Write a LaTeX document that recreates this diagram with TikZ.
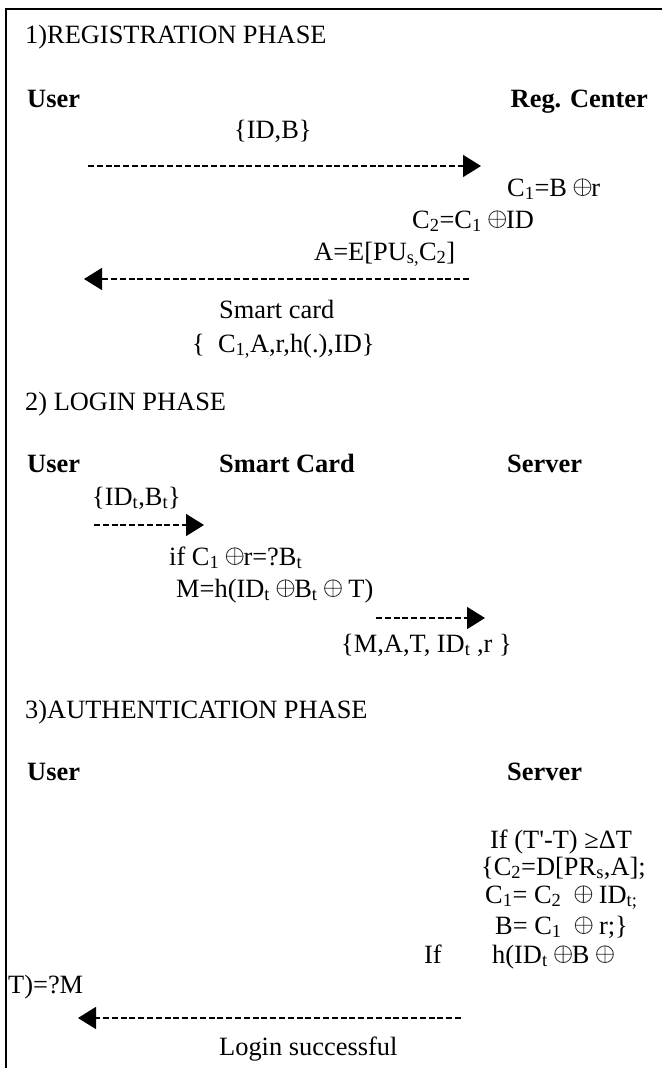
\documentclass[tikz,border=0pt]{standalone}
\usepackage{fontspec}
\setmainfont{Liberation Serif}
\usetikzlibrary{arrows.meta}
% thin circled-plus (exclusive or), about cap height, sitting on the baseline
\newcommand{\xor}{\tikz[baseline=0pt,x=1pt,y=1pt]{\draw[line width=0.85pt,black!80]
  (8.8,8.8) circle (8.4) (0.4,8.8) -- (17.2,8.8) (8.8,0.4) -- (8.8,17.2);}}
\newcommand{\lo}[1]{\textsubscript{#1}}

\begin{document}
\begin{tikzpicture}[x=1pt,y=-1pt,
  txt/.style={inner sep=0pt, anchor=base west, font=\fontsize{26.4}{30}\selectfont},
  role/.style={txt, font=\fontsize{26.4}{30}\selectfont\bfseries},
  frame/.style={line width=2pt},
  msg/.style={line width=1.6pt, dash pattern=on 6pt off 2.8pt,
              -{Triangle[length=18pt,width=22pt]}},
]
\useasboundingbox (0,0) rectangle (662,1068);
\draw[frame] (6,1068) -- (6,8.5) -- (662,8.5);

% ---- 1) Registration phase
\node[txt] (t1) at (25,43) {1)REGISTRATION PHASE};
\node[role] (u1) at (27,107) {User};
\node[role, anchor=base east] (rc) at (648,107) {Reg. Center};
\node[txt] (idb) at (234,138) {\{ID,B\}};
\coordinate (m1s) at (88,166);
\coordinate (m1e) at (481,166);
\draw[msg] (m1s) -- (m1e);
\node[txt] (c1) at (507,196) {C\lo{1}=B \xor r};
\node[txt] (c2) at (412,228) {C\lo{2}=C\lo{1} \xor ID};
\node[txt] (ae) at (314,260) {A=E[PU\lo{s,}C\lo{2}]};
\coordinate (m2s) at (469,279);
\coordinate (m2e) at (84,279);
\draw[msg] (m2s) -- (m2e);
\node[txt] (sc) at (219,318) {Smart card};
\node[txt] (scd) at (192,352) {\{\ \ C\lo{1,}A,r,h(.),ID\}};

% ---- 2) Login phase
\node[txt] (t2) at (25,410) {2) LOGIN PHASE};
\node[role] (u2) at (27,472) {User};
\node[role] (card) at (219,472) {Smart Card};
\node[role] (sv2) at (507,472) {Server};
\node[txt] (idbt) at (92,505) {\{ID\lo{t},B\lo{t}\}};
\coordinate (m3s) at (94,525);
\coordinate (m3e) at (204,525);
\draw[msg] (m3s) -- (m3e);
\node[txt] (chk) at (169,565) {if C\lo{1} \xor r=?B\lo{t}};
\node[txt] (mh) at (176,597) {M=h(ID\lo{t} \xor B\lo{t} \xor\ T)};
\coordinate (m4s) at (376,618);
\coordinate (m4e) at (485,618);
\draw[msg] (m4s) -- (m4e);
\node[txt] (req) at (341,652) {\{M,A,T, ID\lo{t} ,r \}};

% ---- 3) Authentication phase
\node[txt] (t3) at (25,718) {3)AUTHENTICATION PHASE};
\node[role] (u3) at (27,780) {User};
\node[role] (sv3) at (507,780) {Server};
\node[txt] (tt) at (490,848) {If (T\textquotesingle-T) ≥ΔT};
\node[txt] (dec) at (481,875) {\{C\lo{2}=D[PR\lo{s},A];};
\node[txt] (rc1) at (485,903) {C\lo{1}= C\lo{2} \ \xor\ ID\lo{t;}};
\node[txt] (rb) at (495,934) {B= C\lo{1} \ \xor\ r;\}};
\node[txt] (iff) at (424,963) {If};
\node[txt] (hv) at (492,963) {h(ID\lo{t} \xor B \xor};
\node[txt] (hm) at (8,993) {T)=?M};
\coordinate (m5s) at (461,1018);
\coordinate (m5e) at (78,1018);
\draw[msg] (m5s) -- (m5e);
\node[txt] (ok) at (219,1055) {Login successful};
\end{tikzpicture}
\end{document}
